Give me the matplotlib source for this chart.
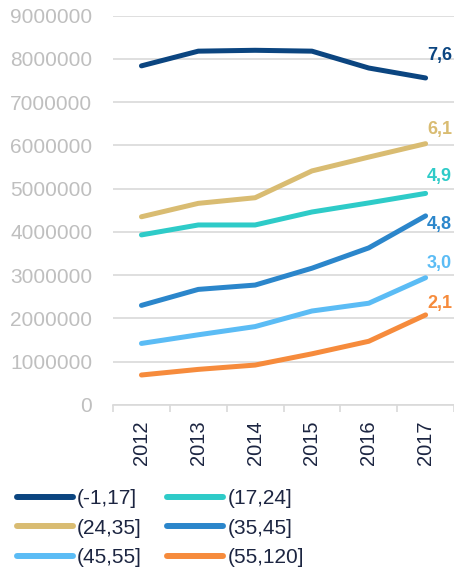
import matplotlib.pyplot as plt

plt.rcParams['font.family'] = ['Liberation Sans', 'DejaVu Sans']

years = ['2012', '2013', '2014', '2015', '2016', '2017']
groups = ['(-1,17]', '(17,24]', '(24,35]', '(35,45]', '(45,55]', '(55,120]']

# values
v_m1_17 = [7840000, 8180000, 8200000, 8180000, 7790000, 7560000]
v_17_24 = [3930000, 4160000, 4160000, 4460000, 4670000, 4890000]
v_24_35 = [4350000, 4660000, 4790000, 5410000, 5730000, 6040000]
v_35_45 = [2300000, 2670000, 2770000, 3160000, 3630000, 4370000]
v_45_55 = [1420000, 1620000, 1810000, 2170000, 2350000, 2940000]
v_55_120 = [690000, 820000, 920000, 1180000, 1470000, 2080000]
end_labels = ['7,6', '4,9', '6,1', '4,8', '3,0', '2,1']

series = [v_m1_17, v_17_24, v_24_35, v_35_45, v_45_55, v_55_120]
colors = ['#0b4580', '#2ecbc8', '#d9bc72', '#2b86cb', '#5bbcf5', '#f68b3c']
# label offsets in points (dx, dy)
offsets = [(1, 10), (1, 6), (1, 4), (1, -12), (1, 4), (1, 2)]

fig = plt.figure(figsize=(4.54, 5.71), dpi=100)
ax = fig.add_axes([0.249, 0.291, 0.751, 0.6815])

x = list(range(len(years)))
lines = []
for vals, name, col, lab, off in zip(series, groups, colors, end_labels, offsets):
    ln, = ax.plot(x, vals, color=col, lw=3.6, solid_capstyle='round', label=name, zorder=3)
    lines.append(ln)
    ax.annotate(lab, (x[-1], vals[-1]), xytext=off, textcoords='offset points',
                ha='left', va='bottom', color=col, fontsize=13, fontweight='bold')

ax.set_xlim(-0.5, 5.5)
ax.set_ylim(0, 9000000)
ax.set_yticks(range(0, 9000001, 1000000))
ax.set_yticklabels([str(v) for v in range(0, 9000001, 1000000)])
ax.tick_params(axis='y', length=0, labelsize=15, labelcolor='#bfbfbf', pad=15)
ax.grid(axis='y', color='#d9d9d9', lw=1.2, zorder=0)

ax.set_xticks(x)
ax.set_xticklabels(years, rotation=90)
ax.set_xticks([i - 0.5 for i in range(len(years) + 1)], minor=True)
ax.tick_params(axis='x', which='major', length=0, labelsize=14.5, labelcolor='#1c2541', pad=11)
ax.tick_params(axis='x', which='minor', length=5, color='#d9d9d9', width=1.2)

for s in ['top', 'right', 'left']:
    ax.spines[s].set_visible(False)
ax.spines['bottom'].set_color('#d9d9d9')
ax.spines['bottom'].set_linewidth(1.2)

# legend filled row by row, two columns
order = [0, 2, 4, 1, 3, 5]
leg = fig.legend([lines[i] for i in order], [groups[i] for i in order],
                 loc='upper left', bbox_to_anchor=(0.037, 0.143), ncol=2, frameon=False,
                 fontsize=15, handlelength=2.7, handletextpad=0.2, columnspacing=1.2,
                 labelspacing=0.5, borderpad=0, borderaxespad=0)
for t in leg.get_texts():
    t.set_color('#1c2541')
for h in leg.get_lines():
    h.set_linewidth(4.3)

fig.savefig('out.png', dpi=100)
